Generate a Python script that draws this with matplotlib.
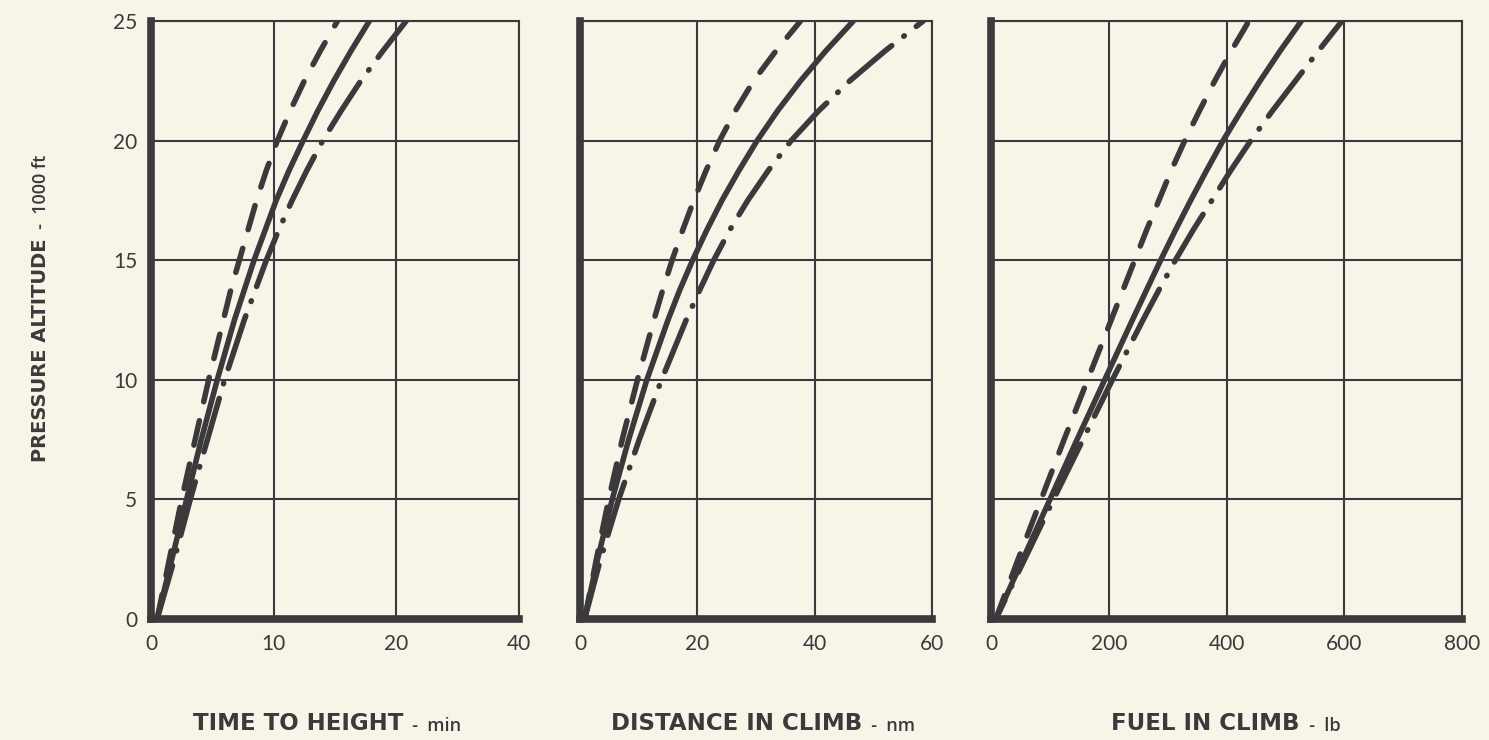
import matplotlib.pyplot as plt
import matplotlib.ticker as ticker

plt.rcParams['font.family'] = ['Lato', 'DejaVu Sans']
plt.rcParams['lines.scale_dashes'] = False

paper = '#f6f5e8'
ink = '#3b393b'

# altitude stations, 1000 ft (closer spacing where the curves bend)
altitude = [0, 2.5, 5, 7.5, 10, 12.5, 13.75, 15, 16.25, 17.5, 18.75,
            20, 21.25, 22.5, 23.75, 25]

# time to height, min
time_dash = [0.5, 1.5, 2.5, 3.6, 4.7, 5.9, 6.5, 7.2, 7.9, 8.6, 9.4,
             10.3, 11.35, 12.5, 13.8, 15.2]
time_solid = [0.5, 1.7, 2.9, 4.1, 5.4, 6.8, 7.6, 8.4, 9.3, 10.2, 11.25,
              12.4, 13.6, 14.9, 16.3, 17.8]
time_dashdot = [0.5, 1.9, 3.2, 4.6, 6.0, 7.6, 8.5, 9.4, 10.4, 11.5, 12.7,
                14.0, 15.5, 17.1, 18.9, 20.8]

# distance in climb, nm
dist_dash = [0.8, 2.8, 4.9, 7.2, 9.8, 12.6, 14.1, 15.7, 17.5, 19.4, 21.5,
             23.8, 26.5, 29.6, 33.4, 37.6]
dist_solid = [0.8, 3.0, 5.5, 8.3, 11.4, 15.0, 17.0, 19.2, 21.6, 24.2, 27.1,
              30.2, 33.7, 37.6, 41.9, 46.6]
dist_dashdot = [0.8, 3.5, 6.6, 10.1, 13.9, 18.1, 20.4, 22.8, 25.5, 28.6, 32.1,
                36.0, 40.7, 46.0, 52.0, 58.5]

# fuel in climb, lb
fuel_dash = [8, 46, 85, 124, 164, 204, 224, 244, 264, 285, 306,
             329, 354, 380, 408, 438]
fuel_solid = [8, 54, 100, 146, 193, 240, 264, 288, 313, 339, 366,
              394, 425, 457, 491, 527]
fuel_dashdot = [8, 57, 106, 156, 206, 258, 285, 313, 343, 375, 407,
                441, 478, 517, 556, 596]

time_ticks = [0, 10, 20, 30]
time_labels = ['0', '10', '20', '40']
dist_ticks = [0, 20, 40, 60]
fuel_ticks = [0, 200, 400, 600, 800]
alt_ticks = [0, 5, 10, 15, 20, 25]

panels = [
    dict(pos=[0.1014, 0.1635, 0.2472, 0.8081], xmax=30, ticks=time_ticks,
         labels=time_labels, series=(time_dash, time_solid, time_dashdot),
         title='TIME TO HEIGHT', unit='  -  min', tx=0.40, dd_offset=0),
    dict(pos=[0.3895, 0.1635, 0.2364, 0.8081], xmax=60, ticks=dist_ticks,
         labels=[str(t) for t in dist_ticks],
         series=(dist_dash, dist_solid, dist_dashdot),
         title='DISTANCE IN CLIMB', unit='  -  nm', tx=0.445, dd_offset=0),
    dict(pos=[0.6656, 0.1635, 0.3163, 0.8081], xmax=800, ticks=fuel_ticks,
         labels=[str(t) for t in fuel_ticks],
         series=(fuel_dash, fuel_solid, fuel_dashdot),
         title='FUEL IN CLIMB', unit='  -  lb', tx=0.455, dd_offset=25),
]

title_font = dict(family=['DejaVu Sans'], fontweight='bold', color=ink)
unit_font = dict(family=['Open Sans', 'DejaVu Sans'], fontweight='semibold',
                 color=ink)

fig = plt.figure(figsize=(14.89, 7.40), dpi=100, facecolor=paper)

for i, p in enumerate(panels):
    ax = fig.add_axes(p['pos'])
    ax.set_facecolor(paper)
    ax.set_xlim(0, p['xmax'])
    ax.set_ylim(0, 25)

    dash, solid, dashdot = p['series']
    ax.plot(dash, altitude, color=ink, lw=4, linestyle=(0, (18, 14)),
            dash_capstyle='round', dash_joinstyle='round')
    ax.plot(solid, altitude, color=ink, lw=4, solid_capstyle='round',
            solid_joinstyle='round')
    ax.plot(dashdot, altitude, color=ink, lw=4,
            linestyle=(p['dd_offset'], (40, 11, 0.5, 11)),
            dash_capstyle='round', dash_joinstyle='round')

    ax.xaxis.set_major_locator(ticker.FixedLocator(p['ticks']))
    ax.xaxis.set_major_formatter(ticker.FixedFormatter(p['labels']))
    ax.yaxis.set_major_locator(ticker.FixedLocator(alt_ticks))
    ax.grid(True, color=ink, lw=1.5)
    ax.tick_params(length=0, pad=11, labelsize=15, colors=ink)
    if i > 0:
        ax.tick_params(axis='y', labelleft=False)
    else:
        ax.tick_params(axis='y', pad=10)

    for side in ('left', 'bottom'):
        ax.spines[side].set_linewidth(5.5)
        ax.spines[side].set_color(ink)
    for side in ('top', 'right'):
        ax.spines[side].set_linewidth(1.5)
        ax.spines[side].set_color(ink)

    t = ax.text(p['tx'], -0.185, p['title'], transform=ax.transAxes,
                ha='center', va='baseline', fontsize=16.5, **title_font)
    ax.annotate(p['unit'], xy=(1, 0), xycoords=t, va='bottom', ha='left',
                fontsize=13, **unit_font)

    if i == 0:
        y = ax.text(-0.30, 0.45, 'PRESSURE ALTITUDE', transform=ax.transAxes,
                    rotation=90, ha='center', va='center', fontsize=14,
                    **title_font)
        ax.annotate('  -  1000 ft', xy=(0.5, 1), xycoords=y, rotation=90,
                    ha='center', va='bottom', fontsize=13, **unit_font)

fig.savefig('out.png', dpi=100, facecolor=paper)
